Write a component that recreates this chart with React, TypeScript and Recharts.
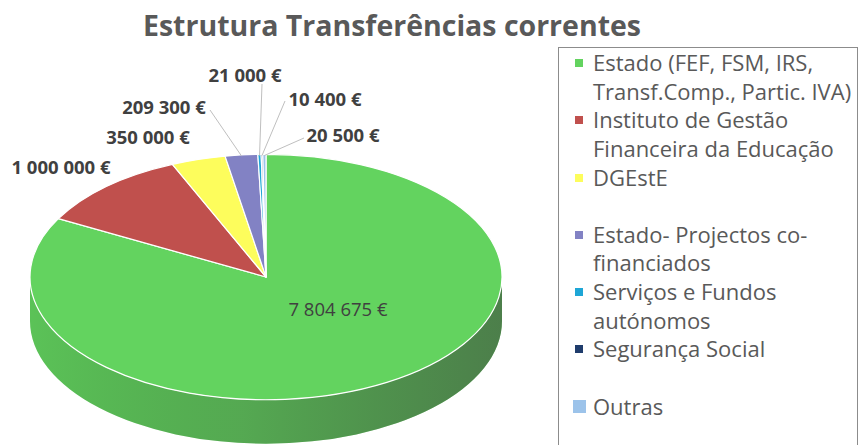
import React from 'react'
import { PieChart, Pie, Cell, Legend } from 'recharts'

const categories = [
  'Estado (FEF, FSM, IRS,\nTransf.Comp., Partic. IVA)',
  'Instituto de Gestão\nFinanceira da Educação',
  'DGEstE',
  'Estado- Projectos co-\nfinanciados',
  'Serviços e Fundos\nautónomos',
  'Segurança Social',
  'Outras',
]
const values = [7804675, 1000000, 350000, 209300, 21000, 10400, 20500]
const colors = ['#63d35f', '#c0504d', '#fdfd5c', '#8282c4', '#1ea6d6', '#1f3c6c', '#9cc3ea']

const data = categories.map((name, i) => ({ name, value: values[i] }))

// label placement (text centre + optional leader start), layout only
const labelLayout: { x: number; y: number; lx?: number; ly?: number; inside?: boolean }[] = [
  { x: 338, y: 308, inside: true },
  { x: 61, y: 166 },
  { x: 148, y: 136 },
  { x: 164, y: 106, lx: 210, ly: 110 },
  { x: 245, y: 74, lx: 262, ly: 84 },
  { x: 325, y: 98, lx: 285, ly: 101 },
  { x: 343, y: 134, lx: 304, ly: 138 },
]
const markerSize = [8, 8, 8, 8, 8, 8, 13]

const FONT = '"Open Sans", Lato, sans-serif'
const RY = 0.52
const DEPTH = 44

const fmt = (v: number) => String(v).replace(/\B(?=(\d{3})+(?!\d))/g, ' ') + ' €'

function pt(cx: number, cy: number, rx: number, ry: number, a: number): [number, number] {
  const r = (a * Math.PI) / 180
  return [cx + rx * Math.cos(r), cy - ry * Math.sin(r)]
}

function Slice3D(props: any) {
  const { cx, cy, outerRadius, startAngle, endAngle, index, fill } = props
  const rx = outerRadius
  const ry = outerRadius * RY
  const color = colors[index] ?? fill
  const [x1, y1] = pt(cx, cy, rx, ry, startAngle)
  const [x2, y2] = pt(cx, cy, rx, ry, endAngle)
  const large = Math.abs(startAngle - endAngle) > 180 ? 1 : 0
  const sweep = startAngle > endAngle ? 1 : 0
  const top = `M${cx},${cy}L${x1},${y1}A${rx},${ry} 0 ${large} ${sweep} ${x2},${y2}Z`

  const lo = Math.min(startAngle, endAngle)
  const hi = Math.max(startAngle, endAngle)
  const sides: string[] = []
  for (const [fl, fh] of [[-180, 0], [180, 360], [-540, -360]]) {
    const a = Math.max(lo, fl)
    const b = Math.min(hi, fh)
    if (b > a) {
      const [bx, by] = pt(cx, cy, rx, ry, b)
      const [ax, ay] = pt(cx, cy, rx, ry, a)
      sides.push(
        `M${bx},${by}A${rx},${ry} 0 0 1 ${ax},${ay}L${ax},${ay + DEPTH}A${rx},${ry} 0 0 0 ${bx},${by + DEPTH}Z`
      )
    }
  }
  const gid = `side-shade-${index}`
  return (
    <g>
      <defs>
        <linearGradient id={gid} x1="0" y1="0" x2="1" y2="0">
          <stop offset="0%" stopColor="#000" stopOpacity={0.08} />
          <stop offset="45%" stopColor="#2a2a2a" stopOpacity={0.25} />
          <stop offset="100%" stopColor="#3a3a3a" stopOpacity={0.55} />
        </linearGradient>
      </defs>
      {sides.map((d, i) => (
        <g key={i}>
          <path d={d} fill={color} />
          <path d={d} fill={`url(#${gid})`} />
        </g>
      ))}
      <path d={top} fill={color} stroke="#ffffff" strokeWidth={1.2} strokeLinejoin="round" />
    </g>
  )
}

function renderLabel(props: any) {
  const { cx, cy, outerRadius, midAngle, index, value } = props
  const l = labelLayout[index]
  if (!l) return null
  const [ex, ey] = pt(cx, cy, outerRadius * 0.99, outerRadius * RY * 0.99, midAngle)
  return (
    <g>
      {l.lx !== undefined && (
        <line x1={l.lx} y1={l.ly} x2={ex} y2={ey} stroke="#bfbfbf" strokeWidth={1} />
      )}
      <text
        x={l.x}
        y={l.y}
        textAnchor="middle"
        dominantBaseline="central"
        fontFamily={FONT}
        fontSize={l.inside ? 18.5 : 18.5}
        fontWeight={l.inside ? 400 : 700}
        fill="#404040"
      >
        {fmt(value)}
      </text>
    </g>
  )
}

function LegendBox() {
  return (
    <div
      style={{
        position: 'absolute',
        left: 558,
        top: 47,
        width: 300,
        height: 420,
        borderLeft: '1px solid #8c8c8c',
        borderTop: '1px solid #8c8c8c',
        borderRight: '1px solid #8c8c8c',
        fontFamily: FONT,
        fontSize: 22,
        color: '#595959',
        boxSizing: 'border-box',
      }}
    >
      {categories.map((name, i) => (
        <div key={name} style={{ position: 'relative', height: 57.3, lineHeight: '28.6px' }}>
          <span
            style={{
              position: 'absolute',
              left: 20 - markerSize[i] / 2,
              top: 15 - markerSize[i] / 2,
              width: markerSize[i],
              height: markerSize[i],
              background: colors[i],
            }}
          />
          <div style={{ position: 'absolute', left: 34, top: 0, whiteSpace: 'pre' }}>{name}</div>
        </div>
      ))}
    </div>
  )
}

export default function App() {
  return (
    <div style={{ position: 'absolute', left: 0, top: 0, width: 860, height: 445, background: '#fff', overflow: 'hidden' }}>
      <div
        style={{
          position: 'absolute',
          left: 0,
          width: 784,
          top: 6,
          textAlign: 'center',
          fontFamily: FONT,
          fontWeight: 700,
          fontSize: 28.5,
          color: '#595959',
        }}
      >
        Estrutura Transferências correntes
      </div>
      <PieChart width={860} height={445} margin={{ top: 0, right: 0, bottom: 0, left: 0 }}>
        <Pie
          data={data}
          dataKey="value"
          nameKey="name"
          cx={266}
          cy={277}
          outerRadius={236}
          startAngle={90}
          endAngle={-270}
          stroke="#fff"
          isAnimationActive={false}
          shape={Slice3D}
          inactiveShape={Slice3D}
          label={renderLabel}
          labelLine={false}
        >
          {data.map((d, i) => (
            <Cell key={d.name} fill={colors[i]} />
          ))}
        </Pie>
        <Legend content={() => null} />
      </PieChart>
      <LegendBox />
    </div>
  )
}
